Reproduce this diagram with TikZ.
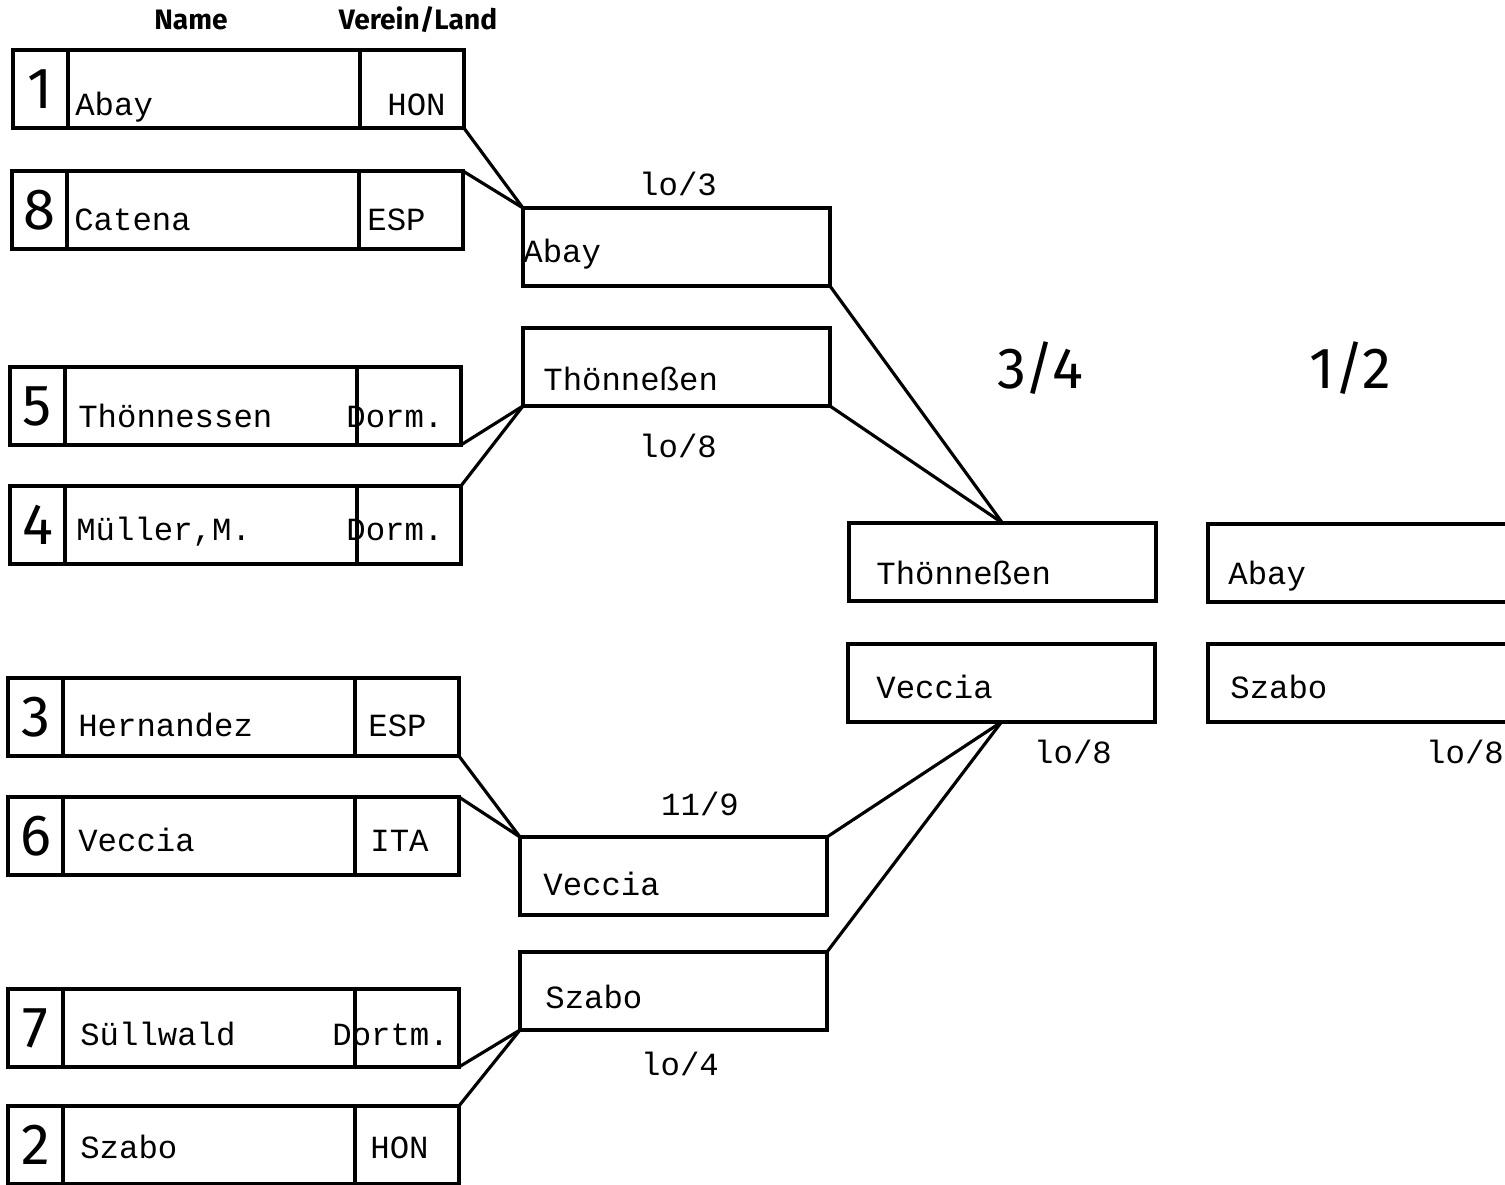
\documentclass[tikz,border=0pt]{standalone}
\usepackage{fontspec}
\usepackage{tikz}
\usetikzlibrary{positioning}

\newfontfamily\monofam{Liberation Mono}
\newfontfamily\dinfam{Fira Sans}
\newcommand\entryfont{\monofam\fontsize{18.4pt}{20pt}\selectfont}
\newcommand\seedfont{\dinfam\fontsize{33pt}{36pt}\selectfont}
\newcommand\headfont{\dinfam\bfseries\fontsize{16pt}{18pt}\selectfont}

\begin{document}
\begin{tikzpicture}[x=0.02cm, y=-0.02cm,
    cell/.style={draw, line width=2.1pt, minimum height=1.56cm, inner sep=0pt, outer sep=0pt, anchor=north west},
    seed/.style={cell, minimum width=1.1cm, font=\seedfont},
    namecell/.style={cell, minimum width=5.84cm},
    clubcell/.style={cell, minimum width=2.08cm},
    match/.style={draw, line width=2.1pt, minimum width=6.14cm, minimum height=1.56cm, inner sep=0pt, outer sep=0pt, anchor=north west},
    entry/.style={font=\entryfont, anchor=base west, inner sep=0pt},
    score/.style={font=\entryfont, anchor=base, inner sep=0pt},
    roundlabel/.style={font=\seedfont, inner sep=0pt},
    head/.style={font=\headfont, inner sep=0pt},
    link/.style={line width=1.8pt, line join=round, line cap=round}]
    \useasboundingbox (0,0) rectangle (1505,1184);

    % column heads
    \node[head] (hname) at (191,20) {Name};
    \node[head] (hclub) at (418,20) {Verein/Land};

    % first round
    \node[seed] (s1) at (13,50) {1};
    \node[namecell, right=0pt of s1] (p1) {};
    \node[clubcell, right=0pt of p1] (c1) {};
    \node[entry] (n1) at (75,115) {Abay};
    \node[entry] (v1) at (387,115) {HON};

    \node[seed] (s8) at (12,171) {8};
    \node[namecell, right=0pt of s8] (p8) {};
    \node[clubcell, right=0pt of p8] (c8) {};
    \node[entry] (n8) at (74,230) {Catena};
    \node[entry] (v8) at (367,230) {ESP};

    \node[seed] (s5) at (10,367) {5};
    \node[namecell, right=0pt of s5] (p5) {};
    \node[clubcell, right=0pt of p5] (c5) {};
    \node[entry] (n5) at (78,427) {Thönnessen};
    \node[entry] (v5) at (346,427) {Dorm.};

    \node[seed] (s4) at (10,486) {4};
    \node[namecell, right=0pt of s4] (p4) {};
    \node[clubcell, right=0pt of p4] (c4) {};
    \node[entry] (n4) at (76,540) {Müller,M.};
    \node[entry] (v4) at (346,540) {Dorm.};

    \node[seed] (s3) at (8,678) {3};
    \node[namecell, right=0pt of s3] (p3) {};
    \node[clubcell, right=0pt of p3] (c3) {};
    \node[entry] (n3) at (78,736) {Hernandez};
    \node[entry] (v3) at (368,736) {ESP};

    \node[seed] (s6) at (8,797) {6};
    \node[namecell, right=0pt of s6] (p6) {};
    \node[clubcell, right=0pt of p6] (c6) {};
    \node[entry] (n6) at (78,851) {Veccia};
    \node[entry] (v6) at (370,851) {ITA};

    \node[seed] (s7) at (8,989) {7};
    \node[namecell, right=0pt of s7] (p7) {};
    \node[clubcell, right=0pt of p7] (c7) {};
    \node[entry] (n7) at (80,1045) {Süllwald};
    \node[entry] (v7) at (332,1045) {Dortm.};

    \node[seed] (s2) at (8,1106) {2};
    \node[namecell, right=0pt of s2] (p2) {};
    \node[clubcell, right=0pt of p2] (c2) {};
    \node[entry] (n2) at (80,1158) {Szabo};
    \node[entry] (v2) at (370,1158) {HON};

    % second round
    \node[match] (m1) at (523,208) {};
    \node[entry] (w1) at (523,262) {Abay};
    \node[score] (r1) at (678,195) {lo/3};

    \node[match] (m2) at (523,328) {};
    \node[entry] (w2) at (543,390) {Thönneßen};
    \node[score] (r2) at (678,457) {lo/8};

    \node[match] (m3) at (520,837) {};
    \node[entry] (w3) at (543,895) {Veccia};
    \node[score] (r3) at (700,815) {11/9};

    \node[match] (m4) at (520,952) {};
    \node[entry] (w4) at (545,1008) {Szabo};
    \node[score] (r4) at (680,1075) {lo/4};

    % semi finals and finals
    \node[roundlabel] (third) at (1040,368) {3/4};
    \node[roundlabel] (final) at (1350,368) {1/2};

    \node[match] (q1) at (849,523) {};
    \node[entry] (t1) at (876,584) {Thönneßen};
    \node[match] (q2) at (848,644) {};
    \node[entry] (t2) at (876,698) {Veccia};
    \node[score] (r5) at (1073,763) {lo/8};

    \node[match] (f1) at (1208,524) {};
    \node[entry] (g1) at (1228,584) {Abay};
    \node[match] (f2) at (1208,644) {};
    \node[entry] (g2) at (1230,698) {Szabo};
    \node[score] (r6) at (1465,763) {lo/8};

    % connectors
    \draw[link] (c1.south east) -- (m1.north west);
    \draw[link] (c8.north east) -- (m1.north west);
    \draw[link] (c5.south east) -- (m2.south west);
    \draw[link] (c4.north east) -- (m2.south west);
    \draw[link] (c3.south east) -- (m3.north west);
    \draw[link] (c6.north east) -- (m3.north west);
    \draw[link] (c7.south east) -- (m4.south west);
    \draw[link] (c2.north east) -- (m4.south west);
    \draw[link] (m1.south east) -- (q1.north);
    \draw[link] (m2.south east) -- (q1.north);
    \draw[link] (m3.north east) -- (q2.south);
    \draw[link] (m4.north east) -- (q2.south);
\end{tikzpicture}
\end{document}
